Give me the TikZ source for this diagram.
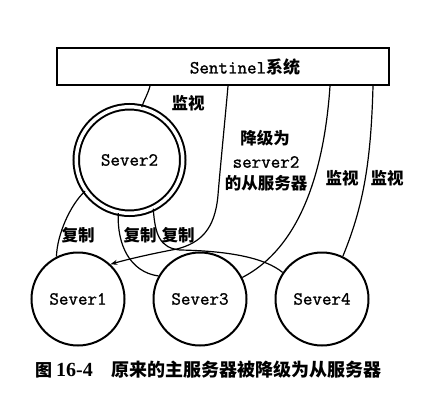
\documentclass[tikz,border=0pt]{standalone}
\usepackage{fontspec}
\usetikzlibrary{arrows.meta}
\newfontfamily\cour{Latin Modern Mono}[FakeBold=1.2]
\newfontfamily\cjk{Noto Sans CJK SC}
\newfontfamily\serifb{Liberation Serif}
\tikzset{
  monof/.style={font=\cour\fontsize{18.5}{20}\selectfont},
  srv/.style={circle, draw, line width=2pt, minimum size=93pt, inner sep=0pt, monof},
  lbl/.style={font=\cjk\bfseries\fontsize{16.5}{19}\selectfont, inner sep=0pt},
  link/.style={line width=1.2pt},
}
\begin{document}
\begin{tikzpicture}[x=1pt,y=-1pt]
\useasboundingbox[fill=white] (0,0) rectangle (442,404);
% Sentinel box
\node[draw, line width=2pt, minimum width=332pt, minimum height=37pt, inner sep=0pt] (sent) at (223,66.5) {};
\node[monof, inner sep=0pt] (sentlbl) at (245,67) {Sentinel{\cjk\bfseries\fontsize{17}{19}\selectfont 系统}};
% servers
\node[circle, draw, double, double distance=3.5pt, line width=2pt, minimum size=106.5pt, inner sep=0pt, monof] (s2) at (129.5,160) {Sever2};
\node[srv] (s1) at (78,299) {Sever1};
\node[srv] (s3) at (200,299) {Sever3};
\node[srv] (s4) at (322,299) {Sever4};
% monitor Sever2
\draw[link] ([xshift=94pt]sent.south west) .. controls (148,94) and (144,100) .. (s2.77);
% demote line with arrow to Sever1
\draw[link, -{Stealth[length=7pt,width=5pt]}] ([xshift=172pt]sent.south west) .. controls (225,120) and (220,170) .. (218,195)
  .. controls (215,230) and (200,243) .. (177,249)
  .. controls (150,254) and (125,260) .. (s1.47);
% monitor Sever3, Sever4
\draw[link] ([xshift=274pt]sent.south west) .. controls (325,160) and (305,245) .. (s3.27);
\draw[link] ([xshift=317pt]sent.south west) .. controls (371,160) and (364,205) .. (s4.64);
% replication lines
\draw[link] (s2.215) .. controls (70,205) and (57,235) .. (s1.117);
\draw[link] (s2.258) .. controls (117,245) and (130,272) .. (s3.151);
\draw[link] (s2.296) .. controls (155,235) and (160,248) .. (180,250)
  .. controls (230,251) and (265,258) .. (s4.146);
% labels
\node[lbl] (l1) at (188,103) {监视};
\node[lbl] (l2) at (265,138) {降级为};
\node[monof, inner sep=0pt] (l3) at (266,162) {server2};
\node[lbl] (l4) at (266,183) {的从服务器};
\node[lbl] (l5) at (342,178) {监视};
\node[lbl] (l6) at (387,178) {监视};
\node[lbl] (c1) at (78,235) {复制};
\node[lbl] (c2) at (140,235) {复制};
\node[lbl] (c3) at (178,235) {复制};
% caption
\node[font=\cjk\bfseries\fontsize{17}{20}\selectfont, inner sep=0pt, anchor=west] (cap1) at (35,370) {图};
\node[font=\serifb\bfseries\fontsize{20}{20}\selectfont, inner sep=0pt, anchor=west] (cap2) at (56,370) {16-4};
\node[font=\cjk\bfseries\fontsize{18}{20}\selectfont, inner sep=0pt, anchor=west] (cap3) at (111,370) {原来的主服务器被降级为从服务器};
\end{tikzpicture}
\end{document}
